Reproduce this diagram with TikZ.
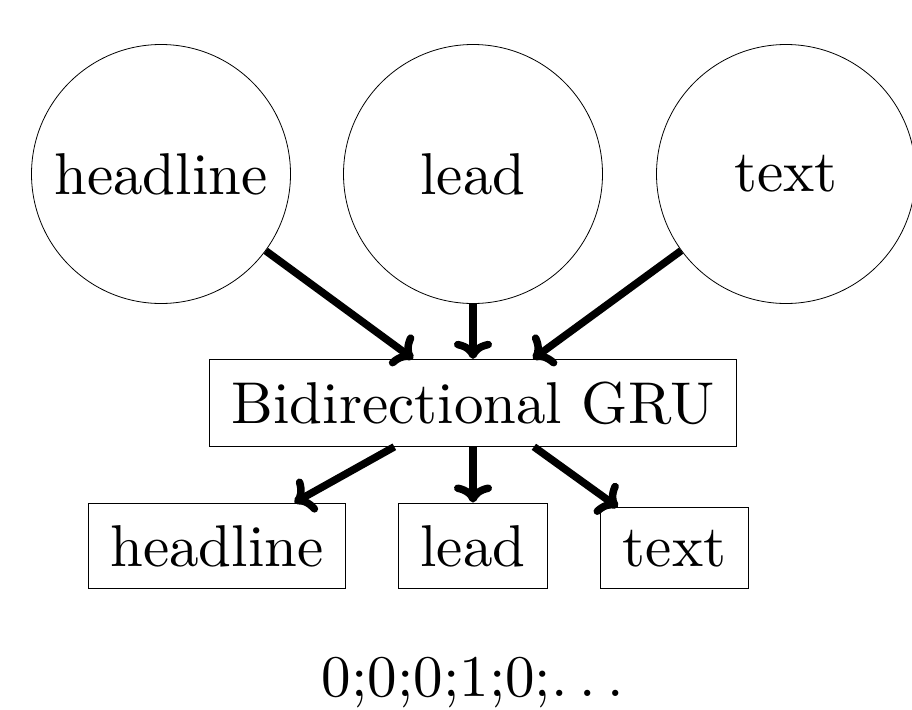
\documentclass[tikz,border=0pt]{standalone}
\usepackage{fontspec}
\setmainfont{lmroman10-regular}[Extension=.otf]
\usetikzlibrary{arrows.meta}
\begin{document}
\begin{tikzpicture}[x=1pt,y=-1pt,
  every node/.style={font=\fontsize{59}{70}\selectfont},
  bubble/.style={draw,circle,line width=0.8pt,minimum size=259pt,inner sep=0pt},
  tbox/.style={draw,rectangle,line width=1pt,inner sep=22pt,anchor=base},
  conn/.style={line width=7.5pt,-{Computer Modern Rightarrow}}]
\useasboundingbox (0,0) rectangle (912,709);
\node[bubble] (hc) at (161,174) {headline};
\node[bubble] (lc) at (473,174) {lead};
\node[bubble] (tc) at (786,174) {text};
\node[tbox] (gru) at (473,423) {Bidirectional GRU};
\node[tbox] (hb) at (217,566) {headline};
\node[tbox] (lb) at (473,566) {lead};
\node[tbox] (tb) at (674.5,566) {text};
\node[anchor=base,inner sep=0pt] (seq) at (473,696) {0;0;0;1;0;.\kern.2em.\kern.2em.};
\draw[conn] (hc) -- (gru);
\draw[conn] (lc) -- (gru);
\draw[conn] (tc) -- (gru);
\draw[conn] (gru) -- (hb);
\draw[conn] (gru) -- (lb);
\draw[conn] (gru) -- (tb);
\end{tikzpicture}
\end{document}
